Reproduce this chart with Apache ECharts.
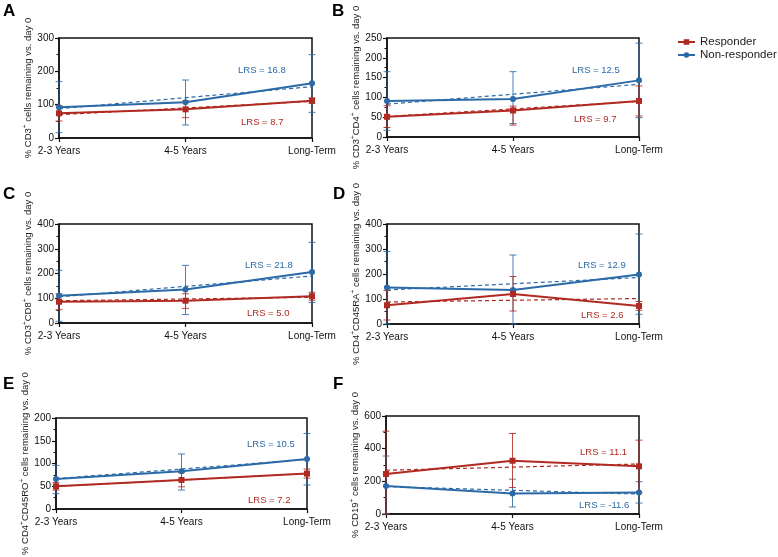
<!DOCTYPE html>
<html><head><meta charset="utf-8">
<script src="https://cdn.jsdelivr.net/npm/echarts@6/dist/echarts.min.js"></script>
<style>html,body{margin:0;padding:0;background:#fff}#c{width:778px;height:557px}</style>
</head><body><div id="c"></div>
<script>
const categories = ['2-3 Years', '4-5 Years', 'Long-Term'];

// Panel A: CD3+
const respA = [74, 86, 112];
const respErrA = [[51, 97], [61, 111], [104, 120]];
const nonA = [92, 107, 164];
const nonErrA = [[16, 169], [39, 174], [77, 250]];
const trendRespA = [70, 90, 110];
const trendNonA = [88, 121, 154];
const yTicksA = [0, 100, 200, 300];

// Panel B: CD3+CD4+
const respB = [51, 67, 91];
const respErrB = [[24, 79], [30, 78], [53, 129]];
const nonB = [91, 96, 143];
const nonErrB = [[17, 165], [34, 165], [49, 237]];
const trendRespB = [52, 71, 90];
const trendNonB = [83, 108, 133];
const yTicksB = [0, 50, 100, 150, 200, 250];

// Panel C: CD3+CD8+
const respC = [86, 90, 108];
const respErrC = [[54, 118], [59, 118], [92, 124]];
const nonC = [110, 135, 206];
const nonErrC = [[7, 213], [34, 233], [83, 326]];
const trendRespC = [90, 97, 104];
const trendNonC = [106, 148, 190];
const yTicksC = [0, 100, 200, 300, 400];

// Panel D: CD4+CD45RA+
const respD = [75, 120, 72];
const respErrD = [[16, 134], [52, 190], [55, 90]];
const nonD = [146, 136, 198];
const nonErrD = [[0, 290], [0, 276], [39, 360]];
const trendRespD = [88, 95, 102];
const trendNonD = [136, 161, 186];
const yTicksD = [0, 100, 200, 300, 400];

// Panel E: CD4+CD45RO+
const respE = [50, 64, 78];
const respErrE = [[42, 58], [49, 80], [68, 88]];
const nonE = [66, 83, 110];
const nonErrE = [[34, 96], [42, 121], [53, 166]];
const trendRespE = [50, 64, 78];
const trendNonE = [67, 88, 109];
const yTicksE = [0, 50, 100, 150, 200];

// Panel F: CD19+
const respF = [245, 326, 292];
const respErrF = [[0, 507], [162, 493], [130, 452]];
const nonF = [172, 125, 131];
const nonErrF = [[0, 355], [43, 213], [67, 198]];
const trendRespF = [268, 287, 306];
const trendNonF = [168, 145, 122];
const yTicksF = [0, 200, 400, 600];

const lrsLabels = [
  ['LRS = 16.8', 'LRS = 8.7'],
  ['LRS = 12.5', 'LRS = 9.7'],
  ['LRS = 21.8', 'LRS = 5.0'],
  ['LRS = 12.9', 'LRS = 2.6'],
  ['LRS = 10.5', 'LRS = 7.2'],
  ['LRS = -11.6', 'LRS = 11.1']
];
const panelLetters = ['A', 'B', 'C', 'D', 'E', 'F'];
const yTitles = [
  '{a|% CD3}{s|+}{a| cells remaining vs. day 0}',
  '{a|% CD3}{s|+}{a|CD4}{s|+}{a| cells remaining vs. day 0}',
  '{a|% CD3}{s|+}{a|CD8}{s|+}{a| cells remaining vs. day 0}',
  '{a|% CD4}{s|+}{a|CD45RA}{s|+}{a| cells remaining vs. day 0}',
  '{a|% CD4}{s|+}{a|CD45RO}{s|+}{a| cells remaining vs. day 0}',
  '{a|% CD19}{s|+}{a| cells remaining vs. day 0}'
];

const RED = '#b02a22', BLUE = '#2b6aa6';
const FONT = 'Arial, "Liberation Sans", sans-serif';

const panels = [
  {resp: respA, respErr: respErrA, non: nonA, nonErr: nonErrA, tr: trendRespA, tn: trendNonA, ticks: yTicksA},
  {resp: respB, respErr: respErrB, non: nonB, nonErr: nonErrB, tr: trendRespB, tn: trendNonB, ticks: yTicksB},
  {resp: respC, respErr: respErrC, non: nonC, nonErr: nonErrC, tr: trendRespC, tn: trendNonC, ticks: yTicksC},
  {resp: respD, respErr: respErrD, non: nonD, nonErr: nonErrD, tr: trendRespD, tn: trendNonD, ticks: yTicksD},
  {resp: respE, respErr: respErrE, non: nonE, nonErr: nonErrE, tr: trendRespE, tn: trendNonE, ticks: yTicksE},
  {resp: respF, respErr: respErrF, non: nonF, nonErr: nonErrF, tr: trendRespF, tn: trendNonF, ticks: yTicksF}
];

// layout (pixels)
const gridBoxes = [
  {left: 59, top: 38, width: 253, height: 100},
  {left: 387, top: 38, width: 252, height: 99},
  {left: 59, top: 224, width: 253, height: 99},
  {left: 387, top: 224, width: 252, height: 100},
  {left: 56, top: 418, width: 251, height: 98},
  {left: 386, top: 416, width: 253, height: 98}
];
const nameGaps = [24, 25, 25, 24, 21, 25];
const letterPos = [[3, 3], [332, 3], [3, 186], [333, 186], [3, 376], [333, 376]];
// LRS label positions: [blueX, blueY, redX, redY]
const lrsPos = [
  [238, 70, 241, 122],
  [572, 70, 574, 119],
  [245, 265, 247, 313],
  [578, 265, 581, 315],
  [247, 444, 248, 500],
  [579, 505, 580, 452]
];

const grids = [], xAxes = [], yAxes = [], series = [], graphics = [];

function errSeries(gi, data, color) {
  return {
    type: 'custom', xAxisIndex: gi, yAxisIndex: gi, silent: true, z: 2,
    data: data.map((d, i) => [i, d[0], d[1]]),
    encode: {x: 0, y: [1, 2]},
    renderItem: function (params, api) {
      const x = api.value(0);
      const lo = api.coord([x, api.value(1)]);
      const hi = api.coord([x, api.value(2)]);
      const w = 3.5;
      const st = {stroke: color, lineWidth: 1, opacity: 0.85};
      return {type: 'group', children: [
        {type: 'line', shape: {x1: lo[0], y1: lo[1], x2: hi[0], y2: hi[1]}, style: st},
        {type: 'line', shape: {x1: lo[0] - w, y1: lo[1], x2: lo[0] + w, y2: lo[1]}, style: st},
        {type: 'line', shape: {x1: hi[0] - w, y1: hi[1], x2: hi[0] + w, y2: hi[1]}, style: st}
      ]};
    }
  };
}

panels.forEach((p, gi) => {
  const g = gridBoxes[gi];
  grids.push(Object.assign({show: true, borderColor: '#111', borderWidth: 1.5, backgroundColor: 'transparent'}, g));
  xAxes.push({
    type: 'category', gridIndex: gi, data: categories, boundaryGap: false,
    axisLine: {lineStyle: {color: '#111', width: 1.5}},
    axisTick: {show: true, length: 4, inside: false, interval: 0, lineStyle: {color: '#111', width: 1.2}},
    axisLabel: {interval: 0, margin: 8, color: '#111', fontSize: 10, fontFamily: FONT},
    splitLine: {show: false}
  });
  const mx = p.ticks[p.ticks.length - 1];
  const step = p.ticks[1] - p.ticks[0];
  yAxes.push({
    type: 'value', gridIndex: gi, min: p.ticks[0], max: mx, interval: step,
    axisLine: {show: true, lineStyle: {color: '#111', width: 1.5}},
    axisTick: {show: true, length: 4, lineStyle: {color: '#111', width: 1.2}},
    minorTick: {show: true, splitNumber: 2, length: 2.5, lineStyle: {color: '#111', width: 1}},
    axisLabel: {margin: 5, color: '#111', fontSize: 10, fontFamily: FONT},
    splitLine: {show: false},
    name: yTitles[gi], nameLocation: 'middle', nameRotate: 90, nameGap: nameGaps[gi],
    nameTextStyle: {
      fontFamily: FONT, color: '#222', fontSize: 9.5,
      rich: {
        a: {fontSize: 9.5, fontFamily: FONT, color: '#222', verticalAlign: 'bottom', lineHeight: 12},
        s: {fontSize: 6.5, fontFamily: FONT, color: '#222', verticalAlign: 'top', lineHeight: 12}
      }
    }
  });
  series.push(errSeries(gi, p.nonErr, BLUE));
  series.push(errSeries(gi, p.respErr, RED));
  series.push({type: 'line', name: 'trend-non', xAxisIndex: gi, yAxisIndex: gi, data: p.tn, symbol: 'none', silent: true, z: 3,
    lineStyle: {color: BLUE, width: 1.2, type: [4, 3]}});
  series.push({type: 'line', name: 'trend-resp', xAxisIndex: gi, yAxisIndex: gi, data: p.tr, symbol: 'none', silent: true, z: 3,
    lineStyle: {color: RED, width: 1.2, type: [4, 3]}});
  series.push({type: 'line', name: 'Non-responder', xAxisIndex: gi, yAxisIndex: gi, data: p.non, symbol: 'circle', symbolSize: 6, z: 4,
    itemStyle: {color: BLUE}, lineStyle: {color: BLUE, width: 2}});
  series.push({type: 'line', name: 'Responder', xAxisIndex: gi, yAxisIndex: gi, data: p.resp, symbol: 'rect', symbolSize: 6, z: 5,
    itemStyle: {color: RED}, lineStyle: {color: RED, width: 2}});

  graphics.push({type: 'text', left: letterPos[gi][0], top: letterPos[gi][1],
    style: {text: panelLetters[gi], fontSize: 17, fontWeight: 'bold', fontFamily: FONT, fill: '#000'}});
  const lp = lrsPos[gi];
  const lab = lrsLabels[gi];
  graphics.push({type: 'text', x: lp[0], y: lp[1], style: {text: lab[0], fontSize: 9.5, fontFamily: FONT, fill: BLUE, verticalAlign: 'middle'}});
  graphics.push({type: 'text', x: lp[2], y: lp[3], style: {text: lab[1], fontSize: 9.5, fontFamily: FONT, fill: RED, verticalAlign: 'middle'}});
});

const chart = echarts.init(document.getElementById('c'), null, {renderer: 'canvas'});
chart.setOption({
  animation: false,
  backgroundColor: '#fff',
  grid: grids, xAxis: xAxes, yAxis: yAxes, series: series, graphic: graphics,
  legend: {
    data: ['Responder', 'Non-responder'], orient: 'vertical', left: 677, top: 36, padding: 0,
    itemWidth: 17, itemHeight: 7, itemGap: 1,
    textStyle: {fontSize: 11.5, fontFamily: FONT, color: '#222', lineHeight: 12}
  }
});
</script></body></html>
